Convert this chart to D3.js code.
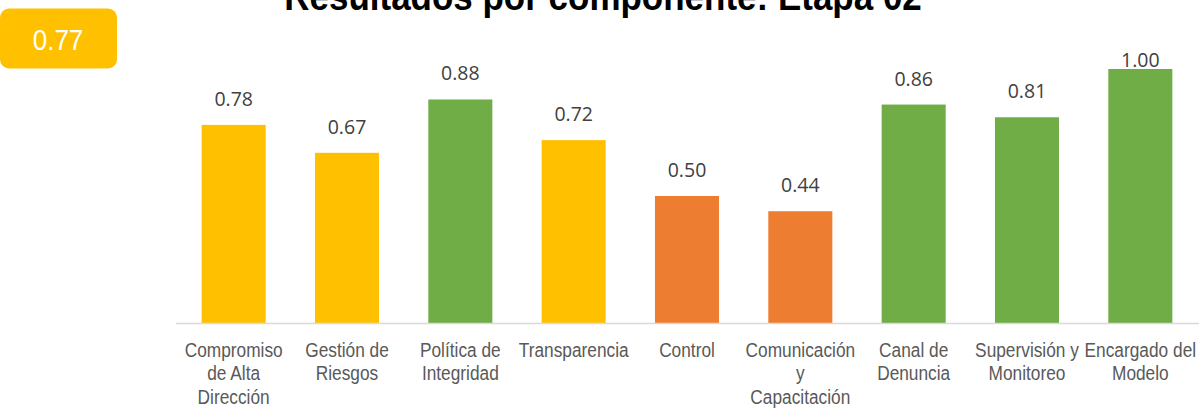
<!DOCTYPE html>
<html>
<head>
<meta charset="utf-8">
<script src="https://cdn.jsdelivr.net/npm/d3@7"></script>
<style>
  body { margin: 0; background: #fff; }
  svg { display: block; }
</style>
</head>
<body>
<div id="chart"></div>
<script>
// Datos del gráfico
const title = "Resultados por componente: Etapa 02";
const overall = 0.77;
const categories = [
    "Compromiso de Alta Dirección",
    "Gestión de Riesgos",
    "Política de Integridad",
    "Transparencia",
    "Control",
    "Comunicación y Capacitación",
    "Canal de Denuncia",
    "Supervisión y Monitoreo",
    "Encargado del Modelo"
];
const labelLines = [
    ["Compromiso", "de Alta", "Dirección"],
    ["Gestión de", "Riesgos"],
    ["Política de", "Integridad"],
    ["Transparencia"],
    ["Control"],
    ["Comunicación", "y", "Capacitación"],
    ["Canal de", "Denuncia"],
    ["Supervisión y", "Monitoreo"],
    ["Encargado del", "Modelo"]
];
const values = [0.78, 0.67, 0.88, 0.72, 0.50, 0.44, 0.86, 0.81, 1.00];
const thresholds = [0.6, 0.8];
const levelColors = ["#ED7D31", "#FFC000", "#70AD47"];

const width = 1199, height = 408;
const stretch = 1.12; // el texto original se ve algo estirado en vertical

const svg = d3.select("#chart")
    .append("svg")
    .attr("width", width)
    .attr("height", height);

const x = d3.scaleBand()
    .domain(categories)
    .range([177, 1197])
    .paddingInner(0.435)
    .paddingOuter(0.2175);

const y = d3.scaleLinear()
    .domain([0, 1])
    .range([323, 69]);

const color = d3.scaleThreshold()
    .domain(thresholds)
    .range(levelColors);

// Título (cortado arriba como en el original)
svg.append("text")
    .attr("transform", `translate(603,10) scale(1,${stretch})`)
    .attr("text-anchor", "middle")
    .style("font-family", "'Liberation Sans', Arial, sans-serif")
    .style("font-weight", "bold")
    .style("font-size", "35px")
    .style("fill", "#000")
    .text(title);

// Indicador global
const badge = svg.append("g");
badge.append("rect")
    .attr("x", 0)
    .attr("y", 8.5)
    .attr("width", 117)
    .attr("height", 60)
    .attr("rx", 9)
    .attr("fill", color(overall));
badge.append("text")
    .attr("transform", `translate(58,50) scale(1,${stretch})`)
    .attr("text-anchor", "middle")
    .style("font-family", "'Liberation Sans', Arial, sans-serif")
    .style("font-size", "26px")
    .style("fill", "#fff")
    .text(overall.toFixed(2));

const data = categories.map((c, i) => ({ cat: c, value: values[i], lines: labelLines[i] }));

// Barras
svg.append("g")
    .selectAll("rect")
    .data(data)
    .join("rect")
    .attr("x", d => x(d.cat))
    .attr("y", d => y(d.value))
    .attr("width", x.bandwidth())
    .attr("height", d => y(0) - y(d.value))
    .attr("fill", d => color(d.value));

// Eje X
svg.append("line")
    .attr("x1", 176)
    .attr("x2", width)
    .attr("y1", y(0) + 0.5)
    .attr("y2", y(0) + 0.5)
    .attr("stroke", "#d9d9d9")
    .attr("stroke-width", 1.5);

// Etiquetas de valor
svg.append("g")
    .selectAll("text")
    .data(data)
    .join("text")
    .attr("x", d => x(d.cat) + x.bandwidth() / 2)
    .attr("y", d => Math.max(y(d.value) - 19, y(1) - 2))
    .attr("text-anchor", "middle")
    .style("font-family", "'Open Sans', sans-serif")
    .style("font-size", "19.5px")
    .style("fill", "#404040")
    .text(d => d.value.toFixed(2));

// Etiquetas de categoría
const catLabels = svg.append("g")
    .selectAll("text")
    .data(data)
    .join("text")
    .attr("transform", d => `translate(${x(d.cat) + x.bandwidth() / 2},357) scale(1,${stretch})`)
    .attr("text-anchor", "middle")
    .style("font-family", "'Liberation Sans', Arial, sans-serif")
    .style("font-size", "17.3px")
    .style("fill", "#595959");

catLabels.selectAll("tspan")
    .data(d => d.lines)
    .join("tspan")
    .attr("x", 0)
    .attr("y", (d, i) => i * 23.5 / stretch)
    .text(d => d);
</script>
</body>
</html>
